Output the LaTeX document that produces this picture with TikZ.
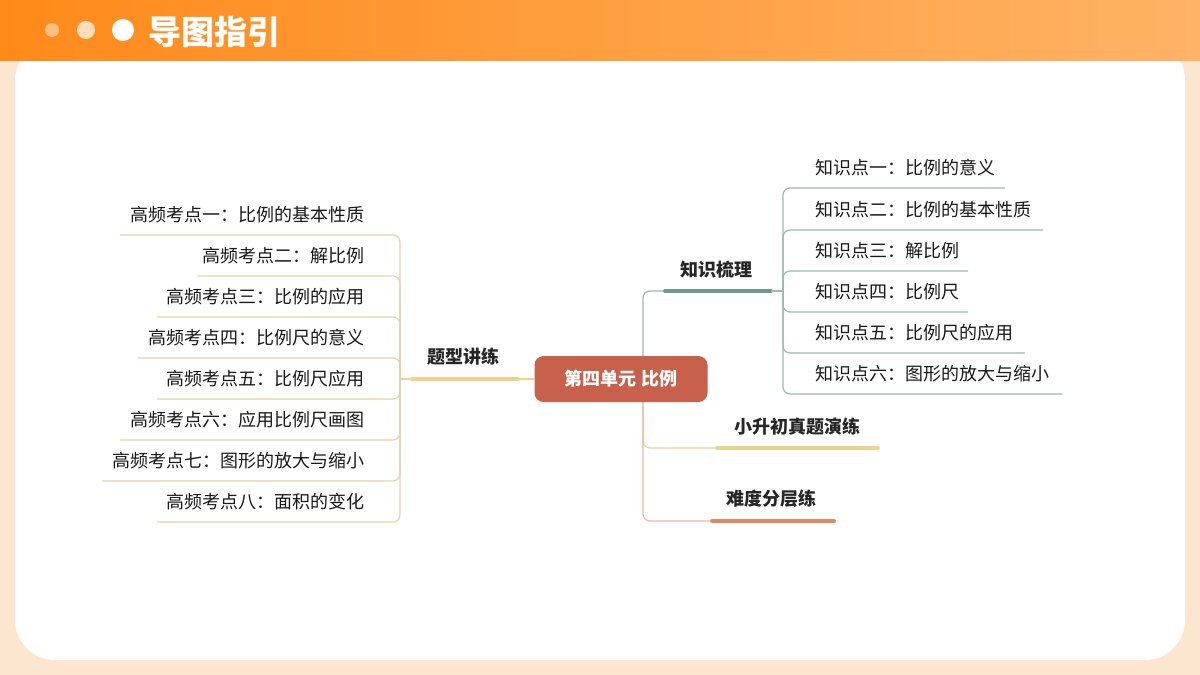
\documentclass[tikz,border=0pt]{standalone}
\usepackage{fontspec}
\setmainfont{Noto Sans CJK SC}
\usetikzlibrary{positioning,backgrounds}
\definecolor{hdrA}{HTML}{FF8A1A}
\definecolor{hdrB}{HTML}{FFB366}
\definecolor{peach}{HTML}{FDE6CF}
\definecolor{rootC}{HTML}{C8614B}
\definecolor{greenC}{HTML}{6E9A8A}
\definecolor{yellowC}{HTML}{EDD38A}
\definecolor{orangeC}{HTML}{E08A66}
\definecolor{lineY}{HTML}{E3D3A6}
\definecolor{lineG}{HTML}{9DB9AE}
\tikzset{
  leaf/.style={font=\fontsize{18}{18}\selectfont, text=black!90, inner sep=0pt},
  topic/.style={font=\fontsize{18}{18}\selectfont\bfseries, text=black!85, inner sep=0pt},
  bar/.style={line width=4pt, line cap=round},
  link/.style={line width=1.2pt, rounded corners=7pt}
}
\begin{document}
\begin{tikzpicture}[x=1pt,y=-1pt]
\useasboundingbox (0,0) rectangle (1200,675);
\shade[left color=hdrA, right color=hdrB] (0,0) rectangle (1200,60);
\fill[white, opacity=.45] (52,30) circle (7);
\fill[white, opacity=.7] (86,30) circle (9);
\fill[white] (123,30) circle (11);
\node[anchor=west, text=white, font=\fontsize{33}{33}\selectfont\bfseries] (title) at (145,32) {导图指引};

% root
\node[fill=rootC, rounded corners=9pt, minimum width=173pt, minimum height=46pt,
  text=white, font=\fontsize{18}{18}\selectfont\bfseries] (root) at (621,379) {第四单元 比例};

\begin{scope}[on background layer]
\fill[peach] (0,0) rectangle (1200,675);
\fill[white, rounded corners=40pt] (15,40) rectangle (1185,660);

% left branch
\node[topic] (drill) at (463,357) {题型讲练};
\draw[yellowC, line width=1.2pt] (root.west) -- (520,379);
\draw[yellowC, bar] (412,379) -- (518,379);
\coordinate (dl) at (400,379);
\draw[lineY, line width=1.2pt] (412,379) -- (dl);
\foreach \t/\y/\xl in {高频考点一：比例的基本性质/235/120, 高频考点二：解比例/276/198,
  高频考点三：比例的应用/317/157, 高频考点四：比例尺的意义/358/138,
  高频考点五：比例尺应用/399/157, 高频考点六：应用比例尺画图/440/120,
  高频考点七：图形的放大与缩小/481/102, 高频考点八：面积的变化/522/157}{
  \node[leaf, anchor=east] (l\y) at (365,\y-20) {\t};
  \draw[lineY, link] (dl) -- (400,\y) -- (\xl,\y);
}

% right branch
\coordinate (rr) at (643,379);
\node[topic] (know) at (716,270) {知识梳理};
\draw[lineG, link] (rr) -- (643,291) -- (665,291);
\draw[greenC, bar] (665,291) -- (771,291);
\coordinate (kr) at (783,291);
\draw[lineG, line width=1.2pt] (771,291) -- (kr);
\foreach \t/\y/\xr in {知识点一：比例的意义/188/1005, 知识点二：比例的基本性质/230/1043,
  知识点三：解比例/271/968, 知识点四：比例尺/312/968,
  知识点五：比例尺的应用/353/1025, 知识点六：图形的放大与缩小/394/1062}{
  \node[leaf, anchor=west] (k\y) at (815,\y-20) {\t};
  \draw[lineG, link] (kr) -- (783,\y) -- (\xr,\y);
}

\node[topic] (exam) at (797,427) {小升初真题演练};
\draw[lineY, link] (rr) -- (643,448) -- (717,448);
\draw[yellowC, bar] (717,448) -- (878,448);

\node[topic] (level) at (771,499) {难度分层练};
\draw[orangeC!60, link] (rr) -- (643,521) -- (712,521);
\draw[orangeC, bar] (712,521) -- (834,521);
\end{scope}
\end{tikzpicture}
\end{document}
